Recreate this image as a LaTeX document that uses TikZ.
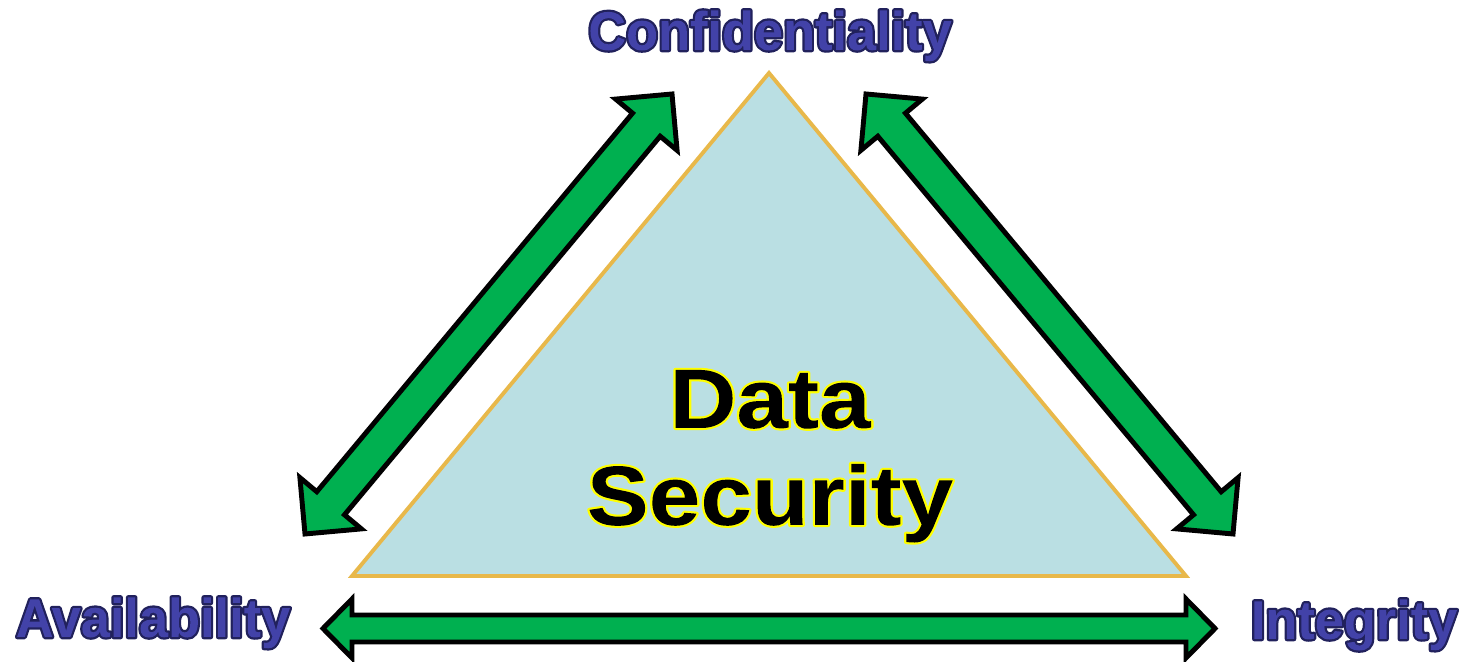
\documentclass[tikz,border=0pt]{standalone}
\usepackage{fontspec}
\setmainfont{Liberation Sans}
\usetikzlibrary{calc}

\definecolor{arrowgreen}{HTML}{00B050}
\definecolor{trifill}{HTML}{BADFE3}
\definecolor{triedge}{HTML}{E8B84A}

\tikzset{
  blockarrow/.style={fill=arrowgreen, draw=black, line width=1.4pt, line join=miter},
  triangleface/.style={fill=trifill, draw=triedge, line width=1.1pt, line join=miter},
  cornerlabel/.style={font=\fontsize{15.5}{18}\selectfont\bfseries, xscale=0.96,
    anchor=base, inner sep=0pt},
  centerlabel/.style={font=\fontsize{24}{28}\selectfont\bfseries, xscale=1.1,
    anchor=base, inner sep=0pt},
}

% Word with an outline that lies outside its glyphs: the glyphs are stroked
% and turned into a clip path (render mode 5), then filled through that clip.
% #1 outline colour "r g b", #2 stroke width (bp), #3 fill colour "r g b", #4 text
\newcommand{\haloglyphs}[4]{%
  \special{pdf:bcontent}%
  \special{pdf:literal direct #1 RG #2 w 1 j 5 Tr}#4%
  \special{pdf:content #3 rg -3000 -1000 6000 2000 re f}%
  \special{pdf:literal direct 0 Tr}%
  \special{pdf:econtent}}

% Double-headed block arrow between two named points.
% #1,#2 tips; #3 shaft half width; #4 head half width; #5 head length
\newcommand{\duplexarrow}[5]{%
  \path ($(#1)!#5!(#2)$) coordinate (#1-h) ($(#2)!#5!(#1)$) coordinate (#2-h);
  \draw[blockarrow] (#1)
    -- ($(#1-h)!#4!90:(#2)$) -- ($(#1-h)!#3!90:(#2)$)
    -- ($(#2-h)!#3!-90:(#1)$) -- ($(#2-h)!#4!-90:(#1)$)
    -- (#2)
    -- ($(#2-h)!#4!90:(#1)$) -- ($(#2-h)!#3!90:(#1)$)
    -- ($(#1-h)!#3!-90:(#2)$) -- ($(#1-h)!#4!-90:(#2)$)
    -- cycle;}

\newcommand{\bluelabel}[1]{\haloglyphs{0.13 0.13 0.36}{1.3}{0.26 0.26 0.66}{#1}}
\newcommand{\yellowhalo}[1]{\haloglyphs{1 1 0}{1.2}{0 0 0}{#1}}

\begin{document}
\begin{tikzpicture}[x=0.01cm, y=-0.01cm]
  \useasboundingbox (0,0) rectangle (1466,662);

  % central triangle
  \coordinate (apex) at (769,73);
  \coordinate (baseL) at (352,576);
  \coordinate (baseR) at (1186,576);
  \draw[triangleface] (apex) -- (baseR) -- (baseL) -- cycle;

  % arrow tips
  \coordinate (lefttop) at (672,94);
  \coordinate (leftbot) at (305,534);
  \coordinate (righttop) at (866,94);
  \coordinate (rightbot) at (1233,534);
  \coordinate (bottomL) at (323,628.5);
  \coordinate (bottomR) at (1215,628.5);

  \duplexarrow{leftbot}{lefttop}{0.18cm}{0.40cm}{0.40cm}
  \duplexarrow{rightbot}{righttop}{0.18cm}{0.40cm}{0.40cm}
  \duplexarrow{bottomL}{bottomR}{0.135cm}{0.295cm}{0.29cm}

  % corner labels
  \node[cornerlabel] (conf)  at (770,50)   {\bluelabel{Confidentiality}};
  \node[cornerlabel] (avail) at (153,637)  {\bluelabel{Availability}};
  \node[cornerlabel] (integ) at (1354,639) {\bluelabel{Integrity}};

  % centre text
  \node[centerlabel] (dataword) at (770,428) {\yellowhalo{Data}};
  \node[centerlabel] (secword)  at (770,525) {\yellowhalo{Security}};
\end{tikzpicture}
\end{document}
